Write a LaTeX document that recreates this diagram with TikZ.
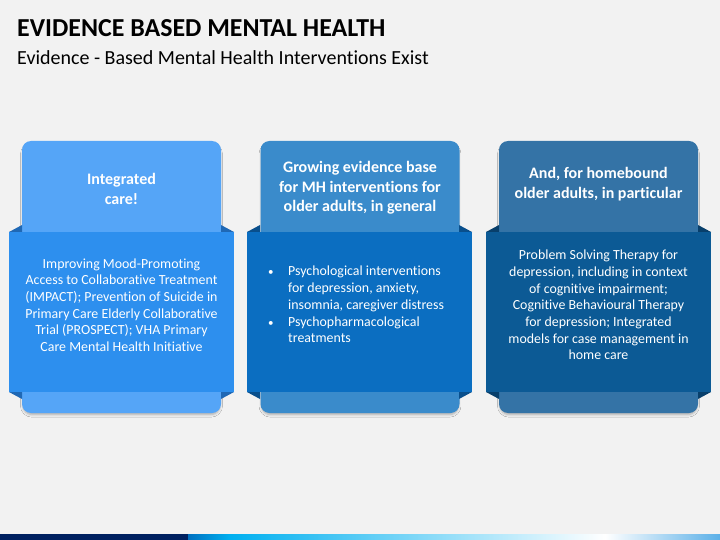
\documentclass[tikz,border=0pt]{standalone}
\usepackage{fontspec}
\setmainfont{Carlito}[Ligatures=NoCommon]
\usetikzlibrary{shadows.blur}
\definecolor{bgc}{HTML}{F2F2F2}
\definecolor{ctopA}{HTML}{55A5F7}
\definecolor{cbandA}{HTML}{2D8FEE}
\definecolor{cfoldA}{HTML}{1F68B5}
\definecolor{ctopB}{HTML}{3A8BCB}
\definecolor{cbandB}{HTML}{0B6EC1}
\definecolor{cfoldB}{HTML}{094F8C}
\definecolor{ctopC}{HTML}{3473A6}
\definecolor{cbandC}{HTML}{0C5A95}
\definecolor{cfoldC}{HTML}{083F6B}
\definecolor{navy}{HTML}{002060}
\definecolor{barblue}{HTML}{0070C0}
\definecolor{barcyan}{HTML}{00B0F0}
\definecolor{barend}{HTML}{5BB0E8}
\tikzset{
  cardtop/.style={rounded corners=9pt, minimum width=199pt, minimum height=272pt, inner sep=0pt,
    blur shadow={shadow xshift=0pt, shadow yshift=-3pt, shadow blur steps=5, shadow opacity=30, shadow blur radius=2.5pt, shadow scale=0.99}},
  band/.style={minimum width=225pt, minimum height=160pt, inner sep=0pt},
  headtext/.style={text=white, align=center, font=\fontsize{16}{19.5}\selectfont\bfseries},
  bodytext/.style={text=white, align=center, font=\fontsize{13.9}{16.7}\selectfont},
  titletext/.style={anchor=base west, inner sep=0pt}
}
\begin{document}
\begin{tikzpicture}[x=1pt,y=-1pt]
\useasboundingbox (0,0) rectangle (720,540);
\fill[bgc] (0,0) rectangle (720,540);

\node[titletext, font=\fontsize{25.9}{30}\selectfont\bfseries] (title) at (17,36.7) {EVIDENCE BASED MENTAL HEALTH};
\node[titletext, font=\fontsize{20}{24}\selectfont] (subtitle) at (17,65) {Evidence - Based Mental Health Interventions Exist};

% Card 1
\node[cardtop, fill=ctopA] (c1top) at (121.5,277) {};
\fill[cfoldA] (9,232) -- (22,225) -- (22,232) -- cycle;
\fill[cfoldA] (9,392) -- (22,399) -- (22,392) -- cycle;
\fill[cfoldA] (234,232) -- (221,225) -- (221,232) -- cycle;
\fill[cfoldA] (234,392) -- (221,399) -- (221,392) -- cycle;
\node[band, fill=cbandA] (c1band) at (121.5,312) {};
\node[headtext] (c1head) at (121.5,189) {Integrated\\care!};
\node[bodytext] (c1body) at (121.5,305) {Improving Mood-Promoting\\Access to Collaborative Treatment\\(IMPACT); Prevention of Suicide in\\Primary Care Elderly Collaborative\\Trial (PROSPECT); VHA Primary\\Care Mental Health Initiative};

% Card 2
\node[cardtop, fill=ctopB] (c2top) at (360,277) {};
\fill[cfoldB] (247,232) -- (260,225) -- (260,232) -- cycle;
\fill[cfoldB] (247,392) -- (260,399) -- (260,392) -- cycle;
\fill[cfoldB] (472,232) -- (459,225) -- (459,232) -- cycle;
\fill[cfoldB] (472,392) -- (459,399) -- (459,392) -- cycle;
\node[band, fill=cbandB] (c2band) at (359.5,312) {};
\node[headtext] (c2head) at (360,188) {Growing evidence base\\for MH interventions for\\older adults, in general};
\node[bodytext, anchor=west, align=left, inner sep=0pt] (c2body) at (268,306) {\begin{tabular}{@{}p{20pt}@{}l@{}}
{\fontsize{11}{16.7}\selectfont\textbullet} & Psychological interventions\\
 & for depression, anxiety,\\
 & insomnia, caregiver distress\\
{\fontsize{11}{16.7}\selectfont\textbullet} & Psychopharmacological\\
 & treatments
\end{tabular}};

% Card 3
\node[cardtop, fill=ctopC] (c3top) at (598.5,277) {};
\fill[cfoldC] (486,232) -- (499,225) -- (499,232) -- cycle;
\fill[cfoldC] (486,392) -- (499,399) -- (499,392) -- cycle;
\fill[cfoldC] (711,232) -- (698,225) -- (698,232) -- cycle;
\fill[cfoldC] (711,392) -- (698,399) -- (698,392) -- cycle;
\node[band, fill=cbandC] (c3band) at (598.5,312) {};
\node[headtext] (c3head) at (598.5,184) {And, for homebound\\older adults, in particular};
\node[bodytext] (c3body) at (598.5,305) {Problem Solving Therapy for\\depression, including in context\\of cognitive impairment;\\Cognitive Behavioural Therapy\\for depression; Integrated\\models for case management in\\home care};

% bottom bar
\fill[navy] (0,534) rectangle (188,540);
\shade[left color=barblue, right color=barcyan] (188,534) rectangle (230,540);
\shade[left color=barcyan, right color=white] (230,534) rectangle (605,540);
\shade[left color=white, right color=barend] (605,534) rectangle (720,540);
\end{tikzpicture}
\end{document}
